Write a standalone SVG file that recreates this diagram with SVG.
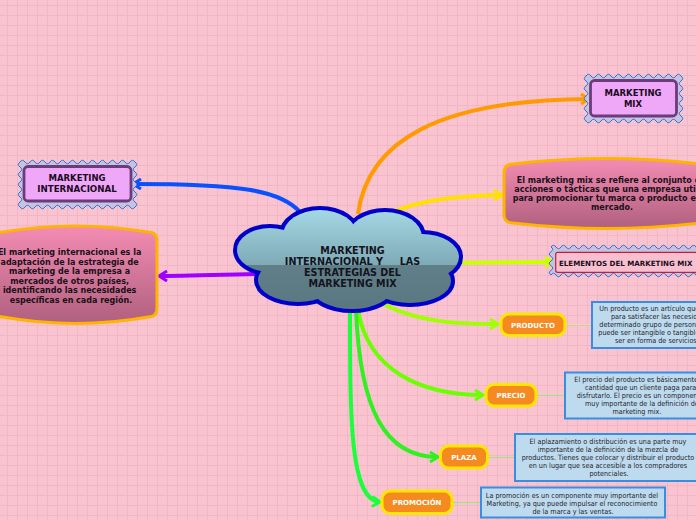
<svg xmlns="http://www.w3.org/2000/svg" width="696" height="520" viewBox="0 0 696 520">
<defs>
<style>
.bold{font-family:"DejaVu Sans",Verdana,sans-serif;font-weight:bold;}
.reg{font-family:"DejaVu Sans Condensed","DejaVu Sans",sans-serif;font-stretch:condensed;font-size:7.2px;fill:#1e1e28;}
.conn{fill:none;stroke-width:4;stroke-linecap:butt;}
.thin{fill:none;stroke-width:1;}
.wave{fill:#c6c4dc;stroke:#2c6ee0;stroke-width:1;}
.inner{fill:#efa8f8;stroke:#6b3b7b;stroke-width:2.8;}
.pinkbox{fill:url(#pinkGrad);stroke:#ffb400;stroke-width:3;}
.tag{fill:#f48a20;stroke:#ffe600;stroke-width:3;}
.tagtxt{font-family:"DejaVu Sans",Verdana,sans-serif;font-weight:bold;font-size:7px;fill:#ffffff;text-anchor:middle;}
.desc{fill:#bedaef;stroke:#3a8ee0;stroke-width:2;}
</style>
<pattern id="grid" patternUnits="userSpaceOnUse" x="7" y="5" width="10" height="10">
<path d="M0,0.5 H10 M0.5,0 V10" stroke="#f1b7c6" stroke-width="1" fill="none"/>
</pattern>
<linearGradient id="cloudGrad" gradientUnits="userSpaceOnUse" x1="0" y1="210" x2="0" y2="312">
<stop offset="0" stop-color="#a4d8e4"/>
<stop offset="0.54" stop-color="#7eaab6"/>
<stop offset="0.54" stop-color="#607f88"/>
<stop offset="1" stop-color="#587780"/>
</linearGradient>
<linearGradient id="pinkGrad" x1="0" y1="0" x2="0" y2="1">
<stop offset="0" stop-color="#f48cb4"/>
<stop offset="1" stop-color="#b0607e"/>
</linearGradient>
<marker id="aBlue" viewBox="0 0 12 12" markerWidth="12" markerHeight="12" markerUnits="userSpaceOnUse" refX="10" refY="6" orient="auto"><path d="M2,1 L10,6 L2,11" fill="none" stroke="#0a50ff" stroke-width="3"/></marker>
<marker id="aPurple" viewBox="0 0 12 12" markerWidth="12" markerHeight="12" markerUnits="userSpaceOnUse" refX="10" refY="6" orient="auto"><path d="M2,1 L10,6 L2,11" fill="none" stroke="#a000ff" stroke-width="3"/></marker>
<marker id="aOrange" viewBox="0 0 12 12" markerWidth="12" markerHeight="12" markerUnits="userSpaceOnUse" refX="10" refY="6" orient="auto"><path d="M2,1 L10,6 L2,11" fill="none" stroke="#ff9a00" stroke-width="3"/></marker>
<marker id="aYellow" viewBox="0 0 12 12" markerWidth="12" markerHeight="12" markerUnits="userSpaceOnUse" refX="10" refY="6" orient="auto"><path d="M2,1 L10,6 L2,11" fill="none" stroke="#ffe000" stroke-width="3"/></marker>
<marker id="aLime" viewBox="0 0 12 12" markerWidth="12" markerHeight="12" markerUnits="userSpaceOnUse" refX="10" refY="6" orient="auto"><path d="M2,1 L10,6 L2,11" fill="none" stroke="#ccff00" stroke-width="3"/></marker>
<marker id="aG1" viewBox="0 0 12 12" markerWidth="12" markerHeight="12" markerUnits="userSpaceOnUse" refX="10" refY="6" orient="auto"><path d="M2,1 L10,6 L2,11" fill="none" stroke="#a0ff00" stroke-width="3"/></marker>
<marker id="aG2" viewBox="0 0 12 12" markerWidth="12" markerHeight="12" markerUnits="userSpaceOnUse" refX="10" refY="6" orient="auto"><path d="M2,1 L10,6 L2,11" fill="none" stroke="#6cff00" stroke-width="3"/></marker>
<marker id="aG3" viewBox="0 0 12 12" markerWidth="12" markerHeight="12" markerUnits="userSpaceOnUse" refX="10" refY="6" orient="auto"><path d="M2,1 L10,6 L2,11" fill="none" stroke="#30f020" stroke-width="3"/></marker>
<marker id="aG4" viewBox="0 0 12 12" markerWidth="12" markerHeight="12" markerUnits="userSpaceOnUse" refX="10" refY="6" orient="auto"><path d="M2,1 L10,6 L2,11" fill="none" stroke="#1aff3a" stroke-width="3"/></marker>
</defs>

<rect x="0" y="0" width="696" height="520" fill="#f9c4d0"/>
<rect x="0" y="0" width="696" height="520" fill="url(#grid)"/>

<g id="connectors">
<path class="conn" stroke="#0a50ff" marker-end="url(#aBlue)" d="M300,212 C280,190 240,184 133,184"/>
<path class="conn" stroke="#a000ff" marker-end="url(#aPurple)" d="M260,274 C220,275 190,276 159,276"/>
<path class="conn" stroke="#ff9a00" marker-end="url(#aOrange)" d="M358,214 C368,140 440,100 589,99"/>
<path class="conn" stroke="#ffe000" marker-end="url(#aYellow)" d="M390,213 C420,200 455,196 502,195"/>
<path class="conn" stroke="#ccff00" marker-end="url(#aLime)" d="M456,263 C490,262 520,262 553,262"/>
<path class="conn" stroke="#a0ff00" marker-end="url(#aG1)" d="M385,305 C420,322 455,324 498,324"/>
<path class="conn" stroke="#6cff00" marker-end="url(#aG2)" d="M358,310 C368,370 420,395 483,395"/>
<path class="conn" stroke="#30f020" marker-end="url(#aG3)" d="M356,310 C360,410 385,457 438,457"/>
<path class="conn" stroke="#1aff3a" marker-end="url(#aG4)" d="M350,310 C350,420 350,500 380,502"/>
<path class="thin" stroke="#d8e496" d="M566,324.5 H592"/>
<path class="thin" stroke="#96e87a" d="M537,395.5 H565"/>
<path class="thin" stroke="#96e87a" d="M489,457.5 H515"/>
<path class="thin" stroke="#96e87a" d="M453,502.5 H481"/>
</g>

<g id="node-central">
<g fill="none" stroke="#0000c8" stroke-width="8">
<ellipse cx="270" cy="250" rx="33" ry="22"/>
<ellipse cx="320" cy="235" rx="37" ry="25"/>
<ellipse cx="385" cy="237" rx="37" ry="25"/>
<ellipse cx="422" cy="257" rx="37" ry="23"/>
<ellipse cx="410" cy="281" rx="41" ry="22"/>
<ellipse cx="352" cy="288" rx="40" ry="21"/>
<ellipse cx="298" cy="280" rx="40" ry="22"/>
</g>
<g fill="url(#cloudGrad)">
<ellipse cx="270" cy="250" rx="33" ry="22"/>
<ellipse cx="320" cy="235" rx="37" ry="25"/>
<ellipse cx="385" cy="237" rx="37" ry="25"/>
<ellipse cx="422" cy="257" rx="37" ry="23"/>
<ellipse cx="410" cy="281" rx="41" ry="22"/>
<ellipse cx="352" cy="288" rx="40" ry="21"/>
<ellipse cx="298" cy="280" rx="40" ry="22"/>
<ellipse cx="350" cy="262" rx="85" ry="30"/>
</g>
<text class="bold" font-size="9.6" fill="#14141e" text-anchor="middle" xml:space="preserve">
<tspan x="352.5" y="254">MARKETING</tspan><tspan x="352.5" y="265">INTERNACIONAL Y     LAS</tspan><tspan x="352.5" y="276">ESTRATEGIAS DEL</tspan><tspan x="352.5" y="287">MARKETING MIX</tspan></text>
</g>

<g id="node-marketing-internacional">
<path class="wave" d="M20,162 q2.5,-3.5 5,0 t5,0 t5,0 t5,0 t5,0 t5,0 t5,0 t5,0 t5,0 t5,0 t5,0 t5,0 t5,0 t5,0 t5,0 t5,0 t5,0 t5,0 t5,0 t5,0 t5,0 t5,0 t5,0 q3.5,2.5 0,5 t0,5 t0,5 t0,5 t0,5 t0,5 t0,5 t0,5 t0,5 q-2.5,3.5 -5,0 t-5,0 t-5,0 t-5,0 t-5,0 t-5,0 t-5,0 t-5,0 t-5,0 t-5,0 t-5,0 t-5,0 t-5,0 t-5,0 t-5,0 t-5,0 t-5,0 t-5,0 t-5,0 t-5,0 t-5,0 t-5,0 t-5,0 q-3.5,-2.5 0,-5 t0,-5 t0,-5 t0,-5 t0,-5 t0,-5 t0,-5 t0,-5 t0,-5 z"/>
<rect class="inner" x="24" y="166.5" width="107" height="34.5" rx="4"/>
<text class="bold" fill="#1a0a22" text-anchor="middle"><tspan x="77" y="181" font-size="8.5">MARKETING</tspan><tspan x="77" y="191.5" font-size="8.7">INTERNACIONAL</tspan></text>
</g>

<g id="node-definicion-internacional">
<path class="pinkbox" d="M-6,241 Q-6,232 3,232 Q76,220 148,232 Q157,232 157,241 L157,308 Q157,317 148,317 Q76,330 3,317 Q-6,317 -6,308 Z"/>
<text class="bold" font-size="8" fill="#1a1018" text-anchor="middle">
<tspan x="71" y="255">El marketing internacional es la</tspan>
<tspan x="71" y="264.6">adaptación de la estrategia de</tspan>
<tspan x="71" y="274.2">marketing de la empresa a</tspan>
<tspan x="71" y="283.8">mercados de otros países,</tspan>
<tspan x="71" y="293.4">identificando las necesidades</tspan>
<tspan x="71" y="303">específicas en cada región.</tspan>
</text>
</g>

<g id="node-marketing-mix">
<path class="wave" d="M586,76 q2.5,-3.5 5,0 t5,0 t5,0 t5,0 t5,0 t5,0 t5,0 t5,0 t5,0 t5,0 t5,0 t5,0 t5,0 t5,0 t5,0 t5,0 t5,0 t5,0 t5,0 q3.5,2.5 0,5 t0,5 t0,5 t0,5 t0,5 t0,5 t0,5 t0,5 t0,5 q-2.5,3.5 -5,0 t-5,0 t-5,0 t-5,0 t-5,0 t-5,0 t-5,0 t-5,0 t-5,0 t-5,0 t-5,0 t-5,0 t-5,0 t-5,0 t-5,0 t-5,0 t-5,0 t-5,0 t-5,0 q-3.5,-2.5 0,-5 t0,-5 t0,-5 t0,-5 t0,-5 t0,-5 t0,-5 t0,-5 t0,-5 z"/>
<rect class="inner" x="590.5" y="80.5" width="86" height="35.5" rx="4"/>
<text class="bold" font-size="8.5" fill="#1a0a22" text-anchor="middle"><tspan x="633" y="96">MARKETING</tspan><tspan x="633" y="107">MIX</tspan></text>
</g>

<g id="node-definicion-mix">
<path class="pinkbox" d="M504,173 Q504,164 513,164 Q607,153 701,164 Q710,164 710,173 L710,214 Q710,223 701,223 Q607,234 513,223 Q504,223 504,214 Z"/>
<text class="bold" font-size="8" fill="#1a1018">
<tspan x="516.7" y="183">El marketing mix se refiere al conjunto de</tspan>
<tspan x="514.3" y="192">acciones o tácticas que una empresa utiliza</tspan>
<tspan x="512.7" y="201">para promocionar tu marca o producto en el</tspan>
<tspan x="612" y="210" text-anchor="middle">mercado.</tspan>
</text>
</g>

<g id="node-elementos">
<path class="wave" d="M551,247 q2.5,-3.5 5,0 t5,0 t5,0 t5,0 t5,0 t5,0 t5,0 t5,0 t5,0 t5,0 t5,0 t5,0 t5,0 t5,0 t5,0 t5,0 t5,0 t5,0 t5,0 t5,0 t5,0 t5,0 t5,0 t5,0 t5,0 t5,0 t5,0 t5,0 t5,0 t5,0 q3.5,2.333 0,4.667 t0,4.667 t0,4.667 t0,4.667 t0,4.667 t0,4.667 q-2.5,3.5 -5,0 t-5,0 t-5,0 t-5,0 t-5,0 t-5,0 t-5,0 t-5,0 t-5,0 t-5,0 t-5,0 t-5,0 t-5,0 t-5,0 t-5,0 t-5,0 t-5,0 t-5,0 t-5,0 t-5,0 t-5,0 t-5,0 t-5,0 t-5,0 t-5,0 t-5,0 t-5,0 t-5,0 t-5,0 t-5,0 q-3.5,-2.333 0,-4.667 t0,-4.667 t0,-4.667 t0,-4.667 t0,-4.667 t0,-4.667 z"/>
<rect x="555.7" y="252.3" width="150" height="20" rx="2" fill="#f7bfd0" stroke="#c0203c" stroke-width="1.2"/>
<text class="bold" font-size="7.1" fill="#1a1018" x="559" y="265.5">ELEMENTOS DEL MARKETING MIX</text>
</g>

<g id="node-producto">
<rect class="tag" x="501" y="314" width="64" height="21.5" rx="8"/>
<text class="tagtxt" x="533" y="327.5">PRODUCTO</text>
</g>
<g id="node-producto-desc">
<rect class="desc" x="592" y="302" width="120" height="46"/>
<text class="reg">
<tspan x="599.3" y="311">Un producto es un artículo que se</tspan>
<tspan x="611" y="319">para satisfacer las necesidades de</tspan>
<tspan x="599.3" y="327">determinado grupo de personas. Este</tspan>
<tspan x="598.3" y="335">puede ser intangible o tangible y</tspan>
<tspan x="615" y="343">ser en forma de servicios.</tspan>
</text>
</g>

<g id="node-precio">
<rect class="tag" x="486" y="384.5" width="50" height="21.5" rx="8"/>
<text class="tagtxt" x="511" y="398">PRECIO</text>
</g>
<g id="node-precio-desc">
<rect class="desc" x="565" y="372.5" width="140" height="46"/>
<text class="reg">
<tspan x="574.3" y="381.5">El precio del producto es básicamente la</tspan>
<tspan x="585" y="389.5">cantidad que un cliente paga para</tspan>
<tspan x="576.7" y="397.5">disfrutarlo. El precio es un componente</tspan>
<tspan x="585" y="405.5">muy importante de la definición del</tspan>
<tspan x="637" y="414" text-anchor="middle">marketing mix.</tspan>
</text>
</g>

<g id="node-plaza">
<rect class="tag" x="440.5" y="446" width="47" height="22" rx="8"/>
<text class="tagtxt" x="464" y="460">PLAZA</text>
</g>
<g id="node-plaza-desc">
<rect class="desc" x="515" y="434" width="190" height="47"/>
<text class="reg" text-anchor="middle">
<tspan x="609" y="444">El aplazamiento o distribución es una parte muy</tspan>
<tspan x="609" y="452">importante de la definición de la mezcla de</tspan>
<tspan x="609" y="460">productos. Tienes que colocar y distribuir el producto</tspan>
<tspan x="609" y="468">en un lugar que sea accesible a los compradores</tspan>
<tspan x="609" y="476">potenciales.</tspan>
</text>
</g>

<g id="node-promocion">
<rect class="tag" x="382" y="491" width="70" height="22.5" rx="8"/>
<text class="tagtxt" x="417" y="505">PROMOCIÓN</text>
</g>
<g id="node-promocion-desc">
<rect class="desc" x="481" y="487.5" width="184" height="30"/>
<text class="reg" text-anchor="middle">
<tspan x="573" y="497.5">La promoción es un componente muy importante del</tspan>
<tspan x="573" y="505.5">Marketing, ya que puede impulsar el reconocimiento</tspan>
<tspan x="573" y="513.5">de la marca y las ventas.</tspan>
</text>
</g>
</svg>
